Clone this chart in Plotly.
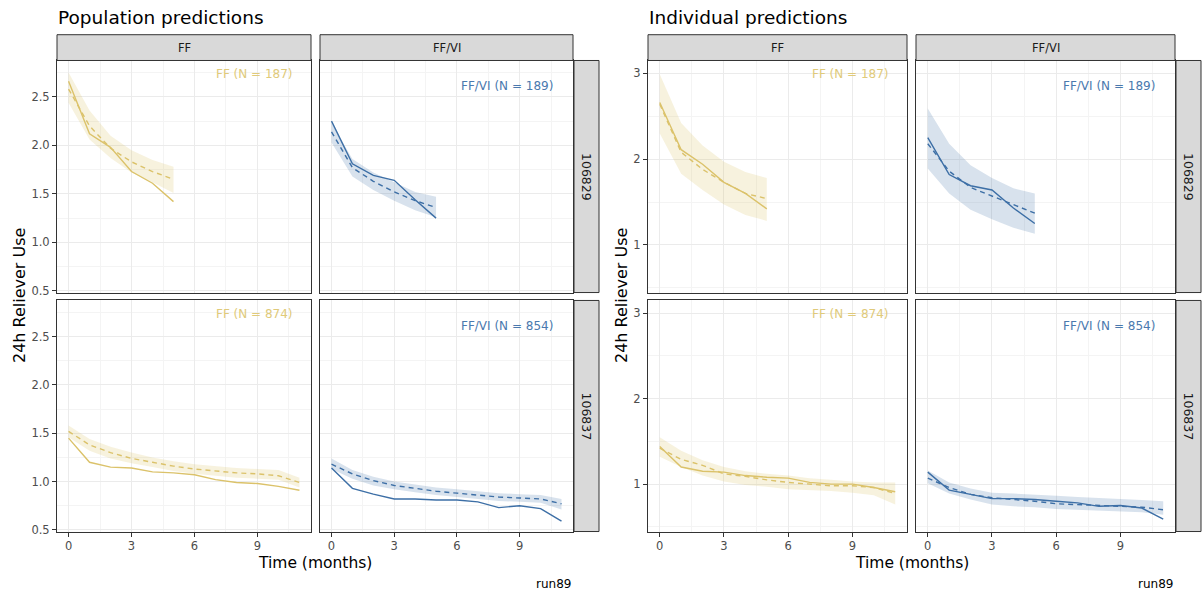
import plotly.graph_objects as go

# ---------------- data ----------------
months_short = [0, 1, 2, 3, 4, 5]
months_long = [0, 1, 2, 3, 4, 5, 6, 7, 8, 9, 10, 11]
treatments = ["FF", "FF/VI"]
studies = ["106829", "106837"]
n_labels = {("106829", "FF"): "FF (N = 187)", ("106829", "FF/VI"): "FF/VI (N = 189)",
            ("106837", "FF"): "FF (N = 874)", ("106837", "FF/VI"): "FF/VI (N = 854)"}
x_ticks = [0, 3, 6, 9]

# Population predictions
pop_106829_ff_obs = [2.66, 2.12, 1.98, 1.73, 1.61, 1.42]
pop_106829_ff_med = [2.58, 2.20, 1.97, 1.83, 1.73, 1.65]
pop_106829_ff_lo = [2.44, 2.06, 1.87, 1.72, 1.62, 1.51]
pop_106829_ff_hi = [2.75, 2.36, 2.10, 1.95, 1.85, 1.78]
pop_106829_vi_obs = [2.25, 1.81, 1.69, 1.64, 1.44, 1.25]
pop_106829_vi_med = [2.14, 1.77, 1.63, 1.52, 1.43, 1.36]
pop_106829_vi_lo = [2.03, 1.68, 1.54, 1.43, 1.33, 1.26]
pop_106829_vi_hi = [2.23, 1.86, 1.72, 1.62, 1.52, 1.47]
pop_106837_ff_obs = [1.45, 1.20, 1.15, 1.14, 1.10, 1.09, 1.07, 1.02, 0.99, 0.98, 0.95, 0.91]
pop_106837_ff_med = [1.52, 1.38, 1.30, 1.24, 1.20, 1.16, 1.13, 1.11, 1.09, 1.08, 1.06, 0.99]
pop_106837_ff_lo = [1.46, 1.32, 1.24, 1.19, 1.15, 1.11, 1.08, 1.06, 1.04, 1.03, 1.02, 0.94]
pop_106837_ff_hi = [1.58, 1.44, 1.36, 1.30, 1.25, 1.21, 1.18, 1.16, 1.14, 1.13, 1.12, 1.04]
pop_106837_vi_obs = [1.14, 0.93, 0.87, 0.82, 0.82, 0.81, 0.81, 0.79, 0.73, 0.75, 0.72, 0.59]
pop_106837_vi_med = [1.18, 1.08, 1.01, 0.96, 0.93, 0.90, 0.88, 0.86, 0.84, 0.83, 0.82, 0.77]
pop_106837_vi_lo = [1.13, 1.03, 0.96, 0.92, 0.89, 0.86, 0.84, 0.82, 0.80, 0.79, 0.78, 0.71]
pop_106837_vi_hi = [1.24, 1.12, 1.05, 1.00, 0.97, 0.94, 0.92, 0.90, 0.88, 0.87, 0.86, 0.82]

# Individual predictions
ind_106829_ff_obs = [2.66, 2.11, 1.94, 1.73, 1.60, 1.42]
ind_106829_ff_med = [2.64, 2.08, 1.88, 1.73, 1.60, 1.54]
ind_106829_ff_lo = [2.30, 1.83, 1.64, 1.47, 1.35, 1.28]
ind_106829_ff_hi = [2.99, 2.42, 2.16, 1.97, 1.85, 1.78]
ind_106829_vi_obs = [2.25, 1.82, 1.69, 1.64, 1.43, 1.25]
ind_106829_vi_med = [2.18, 1.86, 1.67, 1.57, 1.47, 1.37]
ind_106829_vi_lo = [1.89, 1.60, 1.41, 1.30, 1.20, 1.13]
ind_106829_vi_hi = [2.59, 2.18, 1.93, 1.78, 1.66, 1.60]
ind_106837_ff_obs = [1.44, 1.20, 1.15, 1.14, 1.10, 1.08, 1.07, 1.02, 1.00, 1.00, 0.96, 0.91]
ind_106837_ff_med = [1.42, 1.29, 1.22, 1.12, 1.09, 1.05, 1.02, 1.00, 0.98, 0.98, 0.96, 0.89]
ind_106837_ff_lo = [1.32, 1.20, 1.10, 1.03, 0.99, 0.97, 0.94, 0.93, 0.92, 0.90, 0.87, 0.76]
ind_106837_ff_hi = [1.55, 1.39, 1.28, 1.20, 1.15, 1.12, 1.10, 1.07, 1.05, 1.03, 1.02, 1.02]
ind_106837_vi_obs = [1.14, 0.93, 0.88, 0.83, 0.83, 0.82, 0.80, 0.78, 0.74, 0.75, 0.72, 0.59]
ind_106837_vi_med = [1.07, 0.96, 0.88, 0.84, 0.82, 0.80, 0.77, 0.76, 0.75, 0.74, 0.73, 0.70]
ind_106837_vi_lo = [1.01, 0.89, 0.82, 0.76, 0.74, 0.73, 0.71, 0.70, 0.69, 0.68, 0.67, 0.64]
ind_106837_vi_hi = [1.16, 1.02, 0.95, 0.90, 0.89, 0.88, 0.865, 0.85, 0.84, 0.83, 0.815, 0.80]

# ---------------- table built from the arrays ----------------
series = {
    ("pop", "106829", "FF"): (months_short, pop_106829_ff_obs, pop_106829_ff_med, pop_106829_ff_lo, pop_106829_ff_hi),
    ("pop", "106829", "FF/VI"): (months_short, pop_106829_vi_obs, pop_106829_vi_med, pop_106829_vi_lo, pop_106829_vi_hi),
    ("pop", "106837", "FF"): (months_long, pop_106837_ff_obs, pop_106837_ff_med, pop_106837_ff_lo, pop_106837_ff_hi),
    ("pop", "106837", "FF/VI"): (months_long, pop_106837_vi_obs, pop_106837_vi_med, pop_106837_vi_lo, pop_106837_vi_hi),
    ("ind", "106829", "FF"): (months_short, ind_106829_ff_obs, ind_106829_ff_med, ind_106829_ff_lo, ind_106829_ff_hi),
    ("ind", "106829", "FF/VI"): (months_short, ind_106829_vi_obs, ind_106829_vi_med, ind_106829_vi_lo, ind_106829_vi_hi),
    ("ind", "106837", "FF"): (months_long, ind_106837_ff_obs, ind_106837_ff_med, ind_106837_ff_lo, ind_106837_ff_hi),
    ("ind", "106837", "FF/VI"): (months_long, ind_106837_vi_obs, ind_106837_vi_med, ind_106837_vi_lo, ind_106837_vi_hi),
}

# ---------------- styling / layout ----------------
W, H = 1203, 598
FONT = "DejaVu Sans"
line_col = {"FF": "#DBC26A", "FF/VI": "#3D6FA6"}
text_col = {"FF": "#E0CA7A", "FF/VI": "#4A79AE"}
fill_col = {"FF": "rgba(219,194,106,0.22)", "FF/VI": "rgba(61,111,166,0.2)"}

def px(x):
    return x / W

def py(y):
    return 1 - y / H

groups = [
    dict(key="pop", title="Population predictions", cols=[(57, 311), (320, 573)], rstrip=(574, 599),
         yrange=[0.483, 2.875], yticks=[0.5, 1.0, 1.5, 2.0, 2.5], ytext=["0.5", "1.0", "1.5", "2.0", "2.5"],
         yminor=[0.75, 1.25, 1.75, 2.25, 2.75], ytitle_x=19),
    dict(key="ind", title="Individual predictions", cols=[(648, 907), (916, 1175)], rstrip=(1176, 1201),
         yrange=[0.445, 3.15], yticks=[1, 2, 3], ytext=["1", "2", "3"],
         yminor=[0.5, 1.5, 2.5], ytitle_x=621),
]
rows = [(61, 295), (303, 536)]
strip_top = (35, 61)
xrange_ = [-0.55, 11.55]
xminor = [1.5, 4.5, 7.5, 10.5]

fig = go.Figure()
shapes, annotations = [], []
layout_axes = {}
ax_i = 0
GRID = "#EBEBEB"
GRID_MINOR = "#F4F4F4"
BORDER = "#333333"
TICK_SIZE = 11.5

for g in groups:
    for ri, study in enumerate(studies):
        y0, y1 = rows[ri]
        for ci, trt in enumerate(treatments):
            x0, x1 = g["cols"][ci]
            ax_i += 1
            xa = "x" if ax_i == 1 else f"x{ax_i}"
            ya = "y" if ax_i == 1 else f"y{ax_i}"
            xname = "xaxis" if ax_i == 1 else f"xaxis{ax_i}"
            yname = "yaxis" if ax_i == 1 else f"yaxis{ax_i}"
            bottom = ri == 1
            left = ci == 0
            layout_axes[xname] = dict(
                domain=[px(x0), px(x1)], anchor=ya, range=xrange_,
                tickvals=x_ticks, ticktext=[str(v) for v in x_ticks],
                showticklabels=bottom, ticks="outside" if bottom else "",
                ticklen=4, tickwidth=1, tickcolor=BORDER,
                tickfont=dict(family=FONT, size=TICK_SIZE, color="#4D4D4D"),
                showgrid=True, gridcolor=GRID, gridwidth=1.3,
                minor=dict(tickvals=xminor, showgrid=True, gridcolor=GRID_MINOR, gridwidth=0.8, ticks=""),
                zeroline=False, showline=True, mirror=True, linecolor=BORDER, linewidth=1,
                fixedrange=True,
            )
            layout_axes[yname] = dict(
                domain=[py(y1), py(y0)], anchor=xa, range=g["yrange"],
                tickvals=g["yticks"], ticktext=g["ytext"],
                showticklabels=left, ticks="outside" if left else "",
                ticklen=4, tickwidth=1, tickcolor=BORDER,
                tickfont=dict(family=FONT, size=TICK_SIZE, color="#4D4D4D"),
                showgrid=True, gridcolor=GRID, gridwidth=1.3,
                minor=dict(tickvals=g["yminor"], showgrid=True, gridcolor=GRID_MINOR, gridwidth=0.8, ticks=""),
                zeroline=False, showline=True, mirror=True, linecolor=BORDER, linewidth=1,
                fixedrange=True,
            )
            months, obs, med, lo, hi = series[(g["key"], study, trt)]
            fig.add_trace(go.Scatter(x=months, y=hi, mode="lines", line=dict(width=0, color=line_col[trt]),
                                     xaxis=xa, yaxis=ya, hoverinfo="skip", showlegend=False))
            fig.add_trace(go.Scatter(x=months, y=lo, mode="lines", line=dict(width=0, color=line_col[trt]),
                                     fill="tonexty", fillcolor=fill_col[trt],
                                     xaxis=xa, yaxis=ya, hoverinfo="skip", showlegend=False))
            fig.add_trace(go.Scatter(x=months, y=med, mode="lines",
                                     line=dict(width=1.4, color=line_col[trt], dash="5px,4px"),
                                     xaxis=xa, yaxis=ya, showlegend=False))
            fig.add_trace(go.Scatter(x=months, y=obs, mode="lines",
                                     line=dict(width=1.4, color=line_col[trt]),
                                     xaxis=xa, yaxis=ya, showlegend=False))
            # N label
            annotations.append(dict(
                text=n_labels[(study, trt)], x=px(x1 - 16 - (2 if ci == 1 else 0)),
                y=py(y0 + (14 if ci == 0 else 26)), xref="paper", yref="paper",
                xanchor="right", yanchor="middle", showarrow=False,
                font=dict(family=FONT, size=12, color=text_col[trt])))
    # top strips
    for ci, trt in enumerate(treatments):
        x0, x1 = g["cols"][ci]
        shapes.append(dict(type="rect", xref="paper", yref="paper", x0=px(x0), x1=px(x1),
                           y0=py(strip_top[1]), y1=py(strip_top[0]), fillcolor="#D9D9D9",
                           line=dict(color=BORDER, width=1), layer="above"))
        annotations.append(dict(text=trt, x=px((x0 + x1) / 2), y=py((strip_top[0] + strip_top[1]) / 2),
                                xref="paper", yref="paper", showarrow=False, xanchor="center", yanchor="middle",
                                font=dict(family=FONT, size=11.5, color="#1A1A1A")))
    # right strips
    for ri, study in enumerate(studies):
        y0, y1 = rows[ri]
        sx0, sx1 = g["rstrip"]
        shapes.append(dict(type="rect", xref="paper", yref="paper", x0=px(sx0), x1=px(sx1),
                           y0=py(y1), y1=py(y0), fillcolor="#D9D9D9",
                           line=dict(color=BORDER, width=1), layer="above"))
        annotations.append(dict(text=study, x=px((sx0 + sx1) / 2), y=py((y0 + y1) / 2), textangle=90,
                                xref="paper", yref="paper", showarrow=False, xanchor="center", yanchor="middle",
                                font=dict(family=FONT, size=12.5, color="#1A1A1A")))
    cx0 = g["cols"][0][0]
    cx1 = g["cols"][1][1]
    annotations.append(dict(text=g["title"], x=px(cx0 - 1), y=py(18), xref="paper", yref="paper",
                            xanchor="left", yanchor="middle", showarrow=False,
                            font=dict(family=FONT, size=18.5, color="#000000")))
    annotations.append(dict(text="Time (months)", x=px((cx0 + cx1) / 2), y=py(567.5), xref="paper", yref="paper",
                            xanchor="center", yanchor="middle", showarrow=False,
                            font=dict(family=FONT, size=15.5, color="#000000")))
    annotations.append(dict(text="24h Reliever Use", x=px(g["ytitle_x"]), y=py((rows[0][0] + rows[1][1]) / 2),
                            textangle=-90, xref="paper", yref="paper",
                            xanchor="center", yanchor="middle", showarrow=False,
                            font=dict(family=FONT, size=16, color="#000000")))
    annotations.append(dict(text="run89", x=px(cx1), y=py(588.5), xref="paper", yref="paper",
                            xanchor="right", yanchor="middle", showarrow=False,
                            font=dict(family=FONT, size=12, color="#000000")))

fig.update_layout(
    width=W, height=H, margin=dict(l=0, r=0, t=0, b=0),
    paper_bgcolor="white", plot_bgcolor="white", showlegend=False,
    shapes=shapes, annotations=annotations, font=dict(family=FONT),
    **layout_axes,
)

fig.write_html("out.html")
